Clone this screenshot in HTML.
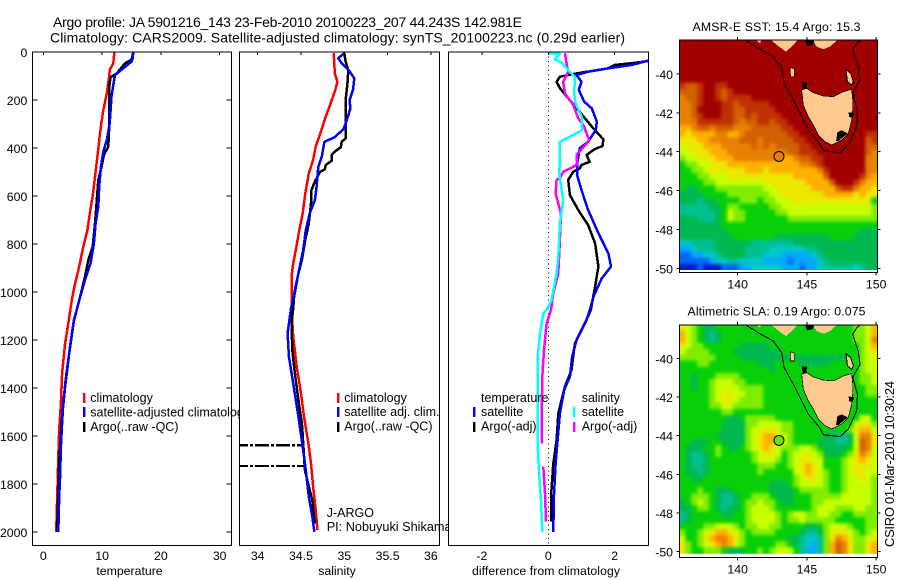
<!DOCTYPE html>
<html>
<head>
<meta charset="utf-8">
<title>Argo profile</title>
<style>
html,body{margin:0;padding:0;background:#fff;width:900px;height:580px;overflow:hidden}
svg{display:block}
text{font-family:"Liberation Sans",sans-serif;font-size:12.3px;fill:#000}
</style>
</head>
<body>
<svg id="fig" width="900" height="580" viewBox="0 0 900 580" xmlns="http://www.w3.org/2000/svg">
<defs>
<clipPath id="clip-p1"><rect x="32.3" y="52" width="199" height="493.7"/></clipPath>
<clipPath id="clip-p2"><rect x="239.3" y="52" width="200" height="493.7"/></clipPath>
<clipPath id="clip-p3"><rect x="448.3" y="52" width="200" height="493.7"/></clipPath>
<clipPath id="clip-m1"><rect x="679.3" y="40" width="198" height="232.7"/></clipPath>
<clipPath id="clip-m2"><rect x="679.3" y="325" width="198" height="232.7"/></clipPath>
<clipPath id="clip-c1"><rect x="679.3" y="40" width="198" height="230"/></clipPath>
<clipPath id="clip-c2"><rect x="679.3" y="325" width="198" height="228.7"/></clipPath>
<filter id="map-smooth" filterUnits="userSpaceOnUse" x="650" y="10" width="250" height="570" color-interpolation-filters="sRGB"><feGaussianBlur stdDeviation="1.7"/></filter>
</defs>
<rect x="0" y="0" width="900" height="580" fill="#fff"/>
<text x="53" y="27" style="font-size:14px" textLength="469" lengthAdjust="spacing">Argo profile: JA 5901216_143 23-Feb-2010 20100223_207 44.243S 142.981E</text>
<text x="50" y="42.5" style="font-size:14px" textLength="575" lengthAdjust="spacing">Climatology: CARS2009. Satellite-adjusted climatology: synTS_20100223.nc (0.29d earlier)</text>

<g id="panel1">
<rect x="32.3" y="52" width="199" height="493.7" fill="#fff"/>
<g id="panel1-series" clip-path="url(#clip-p1)"></g>
<rect x="32.3" y="52" width="199" height="493.7" fill="none" stroke="#000" stroke-width="1" shape-rendering="crispEdges"/>
<g id="panel1-axis"></g>
<text x="129.5" y="575" text-anchor="middle">temperature</text>
<g>
<rect x="83" y="393" width="2.4" height="10" fill="#f00"/>
<rect x="83" y="407" width="2.4" height="10" fill="#00f"/>
<rect x="83" y="422" width="2.4" height="10" fill="#000"/>
<text x="90.3" y="402" style="font-size:12.5px">climatology</text>
<text x="90.3" y="416.5" style="font-size:12.5px">satellite-adjusted climatology</text>
<text x="90.3" y="431" style="font-size:12.5px">Argo(..raw -QC)</text>
</g>
</g>

<g id="panel2">
<rect x="239.3" y="52" width="200" height="493.7" fill="#fff"/>
<g id="panel2-series" clip-path="url(#clip-p2)"></g>
<rect x="239.3" y="52" width="200" height="493.7" fill="none" stroke="#000" stroke-width="1" shape-rendering="crispEdges"/>
<g id="panel2-axis"></g>
<text x="337" y="575" text-anchor="middle">salinity</text>
<g>
<rect x="337" y="393" width="2.4" height="10" fill="#f00"/>
<rect x="337" y="407" width="2.4" height="10" fill="#00f"/>
<rect x="337" y="422" width="2.4" height="10" fill="#000"/>
<text x="344.3" y="402" style="font-size:12.5px">climatology</text>
<text x="344.3" y="416" style="font-size:12.5px">satellite adj. clim.</text>
<text x="344.3" y="430.5" style="font-size:12.5px">Argo(..raw -QC)</text>
</g>
<text x="326.7" y="517" style="font-size:12.5px">J-ARGO</text>
<text x="326.7" y="531" style="font-size:12.7px">PI: Nobuyuki Shikama</text>
</g>

<g id="panel3">
<rect x="448.3" y="52" width="200" height="493.7" fill="#fff"/>
<line x1="548.5" y1="52" x2="548.5" y2="545" stroke="#000" stroke-width="1" stroke-dasharray="1 3.5" shape-rendering="crispEdges"/>
<g id="panel3-series" clip-path="url(#clip-p3)"></g>
<rect x="448.3" y="52" width="200" height="493.7" fill="none" stroke="#000" stroke-width="1" shape-rendering="crispEdges"/>
<g id="panel3-axis"></g>
<text x="546" y="575" text-anchor="middle" textLength="148" lengthAdjust="spacing">difference from climatology</text>
<g>
<text x="481" y="402" style="font-size:12.5px">temperature</text>
<text x="581.7" y="402" style="font-size:12.5px">salinity</text>
<rect x="473" y="407" width="2.4" height="10" fill="#00f"/>
<rect x="473" y="422" width="2.4" height="10" fill="#000"/>
<rect x="573" y="407" width="2.4" height="10" fill="#0ff"/>
<rect x="573" y="422" width="2.4" height="10" fill="#f0f"/>
<text x="481" y="416" style="font-size:12.5px">satellite</text>
<text x="481" y="430.5" style="font-size:12.5px">Argo(-adj)</text>
<text x="581.7" y="416" style="font-size:12.5px">satellite</text>
<text x="581.7" y="430.5" style="font-size:12.5px">Argo(-adj)</text>
</g>
</g>

<g id="map1"></g>
<g id="map2"></g>
<text x="776.5" y="31" text-anchor="middle" textLength="168" lengthAdjust="spacing">AMSR-E SST: 15.4 Argo: 15.3</text>
<text x="776.5" y="315.5" text-anchor="middle" textLength="178" lengthAdjust="spacing">Altimetric SLA: 0.19 Argo: 0.075</text>
<text transform="translate(894,547) rotate(-90)" textLength="166" lengthAdjust="spacing" style="font-size:13px">CSIRO 01-Mar-2010 10:30:24</text>
</svg>

<script>
// ---- profile data ----
const depthTicks = [0,200,400,600,800,1000,1200,1400,1600,1800,2000];
const tempTicks = [0,10,20,30];
const salTicks = [34,34.5,35,35.5,36];
const diffTicks = [-2,0,2];
const lonTicks = [140,145,150];
const latTicks = [-40,-42,-44,-46,-48,-50];

const climTempDepth = [0,47,75,100,172,242,310,367,436,520,600,672,742,811,894,964,1026,1130,1214,1339,1464,1575,1686,1825,2000];
const climTemp = [12.1,11.9,11.3,11.2,10.8,10.2,9.8,9.5,9.2,8.8,8.4,7.9,7.5,6.8,6.1,5.4,4.9,4.25,3.7,3.2,3.0,2.7,2.55,2.4,2.2];
const satTempDepth = [0,26,40,68,96,137,186,242,297,367,415,478,561,644,714,797,880,950,1026,1117,1200,1283,1367,1464,1546,1644,1769,1853,2000];
const satTemp = [15.3,15.2,15.0,13.6,12.2,11.9,11.6,11.45,11.3,10.8,10.2,9.8,9.5,9.35,8.9,8.6,8.05,7.1,6.2,5.2,4.7,4.25,3.8,3.4,3.2,3.0,2.85,2.7,2.55];
const argoTempDepth = [0,33,47,89,105,144,228,311,394,429,478,533,617,714,811,867,936,1026,1120,1256,1395,1546,1712,1825,2000];
const argoTemp = [15.3,15.0,13.9,12.5,11.45,11.2,11.2,11.2,11.05,10.3,9.9,9.35,9.1,8.8,8.4,7.65,7.1,6.2,5.2,4.4,3.7,3.1,2.7,2.55,2.35];

const climSalDepth = [5,47,89,124,165,221,276,332,394,450,506,589,672,742,825,881,936,1068,1186,1311,1422,1519,1631,1714,1811,1908,1992];
const climSal = [34.877,34.885,34.89,34.92,34.89,34.835,34.78,34.73,34.67,34.64,34.59,34.55,34.52,34.48,34.44,34.41,34.39,34.39,34.41,34.45,34.5,34.535,34.585,34.615,34.64,34.67,34.69];
const satSalDepth = [5,26,47,75,110,158,200,235,283,322,356,374,436,478,561,617,672,742,825,922,992,1068,1172,1269,1381,1519,1644,1742,1853,1936,1999];
const satSal = [35.0,34.93,34.97,35.05,35.115,35.1,35.06,35.07,35.03,34.99,34.885,34.77,34.74,34.7,34.68,34.66,34.6,34.555,34.525,34.47,34.43,34.385,34.345,34.36,34.41,34.47,34.52,34.555,34.59,34.63,34.655];
const argoSalDepth = [5,40,75,117,186,269,360,374,397,415,429,453,471,489,499,540,575,631,714,783,867,922,1019,1068,1131,1242,1339,1450,1547,1631,1742,1811,1867,1964];
const argoSal = [35.0,35.015,35.045,35.04,35.02,35.015,35.015,34.97,34.96,34.89,34.855,34.855,34.785,34.775,34.72,34.66,34.62,34.615,34.59,34.55,34.51,34.47,34.42,34.41,34.39,34.4,34.43,34.47,34.51,34.525,34.545,34.59,34.63,34.66];
const spikeDepth = [1639,1725];
const spikeSal = [34.52,34.56];
const spikeLowSal = [33.0,33.0];

const satTempDiffDepth = [36,54,68,82,96,124,158,207,235,290,325,374,401,464,519,575,658,755,839,894,943,1019,1075,1117,1200,1269,1353,1408,1506,1617,1714,1853,1999];
const satTempDiff = [3.01,2.51,1.81,1.2,0.85,1.0,0.92,1.08,1.31,1.46,1.43,1.2,0.95,0.87,0.88,1.0,1.2,1.51,1.81,1.89,1.61,1.36,1.25,1.15,0.85,0.72,0.65,0.48,0.35,0.28,0.22,0.17,0.15];
const argoTempDiffDepth = [36,44,54,68,89,103,124,151,193,242,311,364,392,401,408,429,457,471,485,499,533,596,658,721,797,894,978,1075,1131,1214,1325,1394,1506,1617,1714,1853,1957];
const argoTempDiff = [3.1,2.66,2.0,1.81,0.85,0.35,0.25,0.35,0.6,0.9,1.31,1.66,1.63,1.46,1.36,1.15,1.25,1.0,0.95,0.75,0.6,0.65,0.9,1.2,1.41,1.51,1.41,1.28,1.1,0.8,0.7,0.5,0.3,0.25,0.15,0.08,0.08];
const satSalDiffDepth = [5,8,31,44,75,103,172,214,269,325,346,374,436,506,575,617,714,853,922,1033,1075,1089,1172,1269,1450,1644,1769,1867,1999];
const satSalDiff = [0.02,0.35,0.2,0.4,0.6,0.8,0.78,0.82,1.0,1.02,0.75,0.35,0.35,0.33,0.4,0.45,0.35,0.3,0.25,0.1,-0.05,-0.15,-0.25,-0.32,-0.32,-0.32,-0.27,-0.22,-0.18];
const argoSalDiffDepth = [5,47,82,124,172,221,276,311,367,380,429,471,499,526,533,589,631,672,783,922,1005,1075,1131,1242,1353,1506,1631,1728,1839,1957];
const argoSalDiff = [0.5,0.55,0.6,0.45,0.5,0.75,0.9,1.08,1.23,1.16,0.85,0.85,0.45,0.35,0.25,0.22,0.3,0.38,0.35,0.3,0.15,0.08,-0.05,-0.13,-0.18,-0.2,-0.2,-0.15,-0.1,-0.07];
const argoSalDiffGapAfter = [1631];

// ---- map data (colour-scale level per cell) ----
const sstGrid = [
[14,14,14,14,14,14,14,14,14,14,14,14,14,14,14,14,14,14,14,14,14,14,14,14,14,14,14,14,14,14,14,14,14],
[14,14,14,14,14,14,14,14,14,14,14,14,14,14,14,14,14,14,14,14,14,14,14,14,14,14,14,14,14,14,14,14,14],
[14,14,14,14,14,14,14,14,14,14,14,14,14,14,14,14,14,14,14,14,14,14,14,14,14,14,14,14,14,14,14,14,14],
[14,14,14,14,14,14,14,14,14,14,14,14,14,14,14,14,14,14,14,14,14,14,14,14,14,14,14,14,14,14,14,14,14],
[14,14,14,14,14,14,14,14,14,14,14,14,14,14,14,14,14,14,14,14,14,14,14,14,14,14,14,14,14,14,14,14,14],
[14,14,14,14,14,14,14,14,14,14,14,14,14,14,14,14,14,14,14,14,14,14,14,14,14,14,14,14,14,14,14,14,14],
[14,14,14,14,14,14,14,14,14,14,14,14,14,14,14,14,14,14,14,14,14,14,14,14,14,14,14,14,14,14,14,14,14],
[13,12,12,13,14,14,13,13,14,14,14,14,14,14,14,14,14,14,14,14,14,14,14,14,14,14,14,14,14,14,14,14,14],
[12,12,12,13,14,14,13,12,13,14,14,14,14,14,14,14,14,14,14,14,14,14,14,14,14,14,14,14,14,14,14,14,14],
[11,12,12,13,14,14,13,12,13,13,13,13,14,14,14,14,14,14,14,14,14,14,14,14,14,14,14,14,14,14,14,14,14],
[11,11,12,13,14,14,14,13,13,12,13,13,13,13,13,14,14,14,14,14,14,14,14,14,14,14,14,14,14,14,14,14,14],
[11,11,12,14,14,14,14,13,13,12,12,13,13,13,13,13,14,14,14,14,14,14,14,14,14,14,14,14,14,14,14,14,14],
[11,11,12,13,14,14,14,13,13,12,12,13,12,13,13,13,13,14,14,14,14,14,14,14,14,14,14,14,14,14,14,14,14],
[11,11,11,13,13,13,13,13,13,12,11,12,12,13,13,12,13,13,14,14,14,14,14,14,14,14,14,14,14,14,14,14,14],
[10,10,11,12,12,11,12,12,12,11,11,11,12,12,12,12,12,13,13,14,14,14,14,14,14,14,14,14,14,14,14,14,14],
[10,9,10,10,10,10,11,11,10,10,11,12,12,12,12,12,12,12,13,13,14,14,14,14,14,14,14,14,14,14,14,13,13],
[9,9,9,10,10,11,11,11,11,11,12,12,12,11,12,12,12,12,12,13,13,14,14,14,14,14,14,14,14,14,14,12,13],
[8,9,9,9,10,10,10,11,11,11,11,11,12,11,12,11,12,12,12,12,13,13,14,14,14,14,14,14,14,14,14,12,12],
[8,8,9,9,9,10,10,10,11,11,11,11,11,11,11,11,11,11,12,12,13,13,13,14,14,14,14,14,14,14,14,12,11],
[7,8,8,9,9,9,10,10,10,11,11,11,11,11,11,11,10,10,10,11,12,12,13,13,14,14,14,14,14,14,14,11,11],
[6,7,7,8,8,9,9,9,10,10,10,10,10,10,10,10,10,10,10,10,11,11,12,13,14,14,14,14,14,14,14,11,11],
[6,6,7,7,8,9,9,9,9,9,9,10,10,10,9,10,10,10,10,10,10,10,10,11,13,14,14,14,14,14,14,11,11],
[6,6,6,7,7,8,8,8,9,9,9,9,9,9,9,9,9,9,9,10,10,10,10,10,12,14,14,14,14,14,13,11,10],
[6,6,6,6,7,7,8,8,8,8,8,8,8,8,9,9,9,9,9,9,9,10,10,10,10,12,14,14,14,13,11,10,10],
[6,5,5,6,6,6,7,7,7,7,7,7,7,7,8,8,9,9,9,9,9,9,10,10,10,10,12,13,13,11,10,10,9],
[5,5,5,5,6,6,6,6,7,7,7,7,7,7,7,8,8,9,9,9,9,9,9,9,10,10,10,10,10,9,10,9,9],
[5,5,5,4,5,5,6,6,6,6,7,7,7,6,7,7,8,8,9,9,9,9,9,9,9,9,9,9,9,9,9,9,6],
[4,4,4,4,4,5,5,6,7,7,6,6,6,6,6,7,7,8,8,8,8,8,8,8,8,8,8,8,8,8,8,8,7],
[4,4,4,4,4,4,5,6,8,7,7,6,6,6,6,6,7,7,8,8,8,8,8,8,8,8,8,8,8,8,8,8,7],
[5,5,5,4,4,4,5,6,8,7,7,6,6,6,6,6,6,6,7,7,7,7,7,7,7,7,7,7,7,7,7,7,7],
[5,5,5,5,5,5,5,6,6,6,6,6,6,6,6,6,6,6,6,6,6,6,6,6,6,6,6,6,6,6,6,6,6],
[5,5,5,5,5,5,5,5,6,6,6,6,6,6,6,6,6,6,6,6,6,6,6,6,6,6,6,6,6,6,5,5,5],
[5,5,5,5,5,5,5,5,5,6,6,6,6,6,6,6,5,5,5,5,5,5,5,5,5,6,6,6,6,5,5,5,5],
[3,3,4,4,4,4,5,5,5,5,5,5,4,4,4,4,4,4,4,5,5,5,5,5,5,5,5,5,5,5,5,5,5],
[2,2,3,4,4,4,5,5,5,5,5,4,4,4,4,3,3,3,3,3,3,4,4,5,5,5,5,5,5,5,5,5,5],
[1,1,2,2,3,3,4,5,5,5,5,4,4,4,3,3,3,2,2,2,2,2,3,4,5,5,5,5,5,5,5,5,5],
[1,1,1,1,1,2,3,3,4,4,3,3,3,3,2,2,2,2,1,2,2,2,2,3,4,5,5,5,5,5,5,5,5],
[0,0,0,1,0,0,0,1,1,1,2,2,3,3,3,3,3,2,2,2,1,2,2,3,4,4,4,4,4,3,4,5,5]
];
const slaGrid = [
[9,8,7,6,5,5,6,6,6,6,6,6,6,6,6,6,6,6,6,6,6,6,6,6,6,6,6,6,6,7,7,8,10],
[10,8,7,6,5,4,5,6,6,6,6,6,6,6,6,6,6,6,6,6,6,6,6,6,6,6,6,6,6,7,7,8,10],
[10,8,7,6,5,4,5,6,6,6,6,6,6,6,6,6,6,6,6,6,6,6,6,6,6,6,6,6,6,7,7,8,11],
[9,8,7,7,6,6,6,6,6,6,5,5,5,5,5,6,6,6,6,6,6,6,6,6,6,6,6,6,6,6,7,8,10],
[8,7,7,7,7,6,6,6,6,5,5,5,5,5,5,5,5,6,6,6,6,6,6,6,6,6,6,6,6,6,7,8,9],
[7,7,7,7,7,7,6,6,6,6,5,5,5,5,5,5,5,5,5,5,5,5,5,5,5,5,5,5,6,6,7,8,8],
[6,6,6,7,7,6,6,6,6,6,6,6,6,5,5,5,6,6,6,6,5,5,5,5,5,6,6,6,6,6,7,8,8],
[6,6,6,6,6,6,6,6,6,6,6,6,6,6,6,5,6,6,6,6,6,6,6,6,6,6,6,6,6,6,7,8,8],
[6,6,5,6,6,6,7,7,7,7,6,6,6,6,6,6,6,6,6,6,6,6,6,6,6,6,6,6,6,6,7,7,8],
[6,6,5,6,6,7,8,8,8,7,7,6,6,6,6,6,6,6,6,6,6,6,6,6,6,6,6,6,6,6,7,7,8],
[6,6,5,6,6,7,8,8,8,8,7,7,7,7,6,6,6,6,6,6,6,6,6,6,6,6,6,6,6,6,6,7,7],
[6,6,6,6,6,7,8,9,9,8,8,7,7,7,6,6,6,6,6,6,6,6,6,6,6,6,6,6,6,6,6,7,7],
[6,6,6,6,6,7,8,9,9,8,7,7,7,7,6,6,6,6,6,6,6,6,6,6,6,6,6,6,6,6,6,6,6],
[6,6,6,6,6,7,7,8,8,7,7,7,7,7,6,6,6,6,6,6,6,6,6,6,6,6,6,6,6,6,6,6,6],
[6,6,6,6,6,6,6,7,7,6,6,6,6,6,6,6,6,6,6,6,6,6,6,6,6,6,6,6,6,6,6,6,6],
[6,6,6,6,6,6,6,6,5,5,6,7,7,7,7,7,6,6,6,6,6,6,6,6,6,6,6,6,6,6,8,8,6],
[6,6,6,6,6,6,6,5,5,5,5,7,7,8,8,8,8,7,7,6,6,6,6,6,6,6,6,6,6,8,9,9,7],
[6,6,6,6,6,6,6,5,5,5,5,7,8,8,9,9,8,7,7,6,6,6,6,6,6,5,6,6,7,9,10,10,8],
[6,6,6,6,6,6,5,5,5,5,5,7,8,9,10,10,9,8,7,6,6,6,6,6,5,5,4,4,5,8,11,11,9],
[6,6,5,5,5,6,6,5,5,5,5,7,8,9,10,10,9,8,7,6,6,6,6,5,5,5,4,4,5,8,12,11,9],
[6,5,5,5,6,6,7,6,5,5,6,7,8,9,10,9,8,7,7,7,8,8,7,6,5,5,5,5,6,8,12,11,8],
[6,5,4,4,5,6,7,6,6,6,6,6,7,8,9,9,8,6,7,8,8,9,8,7,5,5,5,6,7,9,11,10,8],
[6,5,4,4,5,6,6,6,6,6,6,6,7,8,8,8,7,6,7,8,9,9,8,8,6,6,6,7,8,9,10,9,8],
[6,5,4,4,5,6,6,6,6,6,6,6,6,7,7,7,6,6,7,8,9,10,9,8,6,6,6,7,8,9,9,9,8],
[6,5,5,4,5,6,6,6,6,6,6,6,6,7,6,6,6,6,6,8,9,10,9,8,7,6,6,7,8,9,9,8,8],
[6,6,5,5,6,6,6,6,6,6,6,6,6,6,6,6,6,6,6,7,8,9,9,8,7,6,6,7,8,8,9,8,7],
[6,6,6,6,6,6,6,6,6,6,6,6,6,6,6,5,5,5,6,7,8,8,8,8,7,6,6,7,8,8,8,8,7],
[6,6,6,7,6,6,5,5,5,6,6,6,6,6,6,5,5,5,5,6,7,7,7,7,7,6,6,7,8,8,8,8,7],
[6,6,7,7,7,6,5,4,4,5,6,6,7,7,7,6,5,5,5,6,6,6,7,7,7,7,7,8,8,8,8,8,7],
[5,6,7,8,7,6,5,4,4,5,6,7,7,8,7,7,6,5,5,6,6,6,7,7,8,8,8,8,8,8,8,8,7],
[5,5,6,7,7,6,5,4,5,5,6,7,8,8,8,7,6,6,6,6,6,6,7,8,8,8,7,7,7,8,8,7,7],
[4,5,6,6,6,6,6,5,5,6,6,7,8,8,8,8,7,6,7,8,8,7,7,8,8,7,7,6,6,7,7,7,7],
[4,5,6,6,6,6,6,6,6,6,6,7,8,8,8,8,7,6,7,7,8,7,7,7,7,7,6,6,6,6,6,7,7],
[6,6,6,6,7,7,8,8,8,7,6,7,7,8,8,7,7,6,6,6,6,5,5,6,7,8,8,8,7,6,6,7,7],
[7,6,6,7,8,9,10,10,9,8,7,6,7,7,7,7,6,6,6,6,5,4,4,5,7,9,9,9,8,7,6,7,8],
[8,6,6,7,9,10,11,11,10,9,7,6,6,6,6,6,6,6,5,5,4,3,3,4,7,9,11,10,9,7,7,8,9],
[9,7,6,7,8,9,10,11,10,8,7,6,6,6,6,6,7,7,6,5,4,3,2,4,7,10,12,11,9,7,7,9,10],
[9,7,6,6,7,7,7,6,5,5,5,6,6,7,6,7,8,8,8,6,4,2,2,4,7,10,12,11,9,7,7,9,10]
];
const profileLon = [142.981];
const profileLat = [-44.243];

const tasmaniaLon = [144.62,144.98,145.46,146.19,146.91,147.63,148.23,148.30,148.30,148.23,147.99,147.51,147.03,146.79,146.31,145.82,145.46,145.10,144.74];
const tasmaniaLat = [-40.82,-40.74,-40.96,-41.13,-41.17,-40.91,-40.79,-41.34,-41.85,-42.37,-43.05,-43.40,-43.57,-43.65,-43.48,-43.14,-42.62,-42.20,-41.60];
const otwayLon = [142.33,142.82,143.49,144.02,144.38];
const otwayLat = [-38.2,-38.51,-38.85,-38.51,-38.2];
const gippslandLon = [145.34,145.70,146.19,146.67,147.27];
const gippslandLat = [-38.2,-38.59,-38.73,-38.59,-38.2];
const glenelgLon = [141.25,141.6,141.73];
const glenelgLat = [-38.2,-38.42,-38.2];
const kingLon = [143.83,144.07,144.07,143.85,143.78];
const kingLat = [-39.66,-39.73,-40.14,-40.14,-39.89];
const flindersLon = [147.82,148.16,148.35,148.23,147.92];
const flindersLat = [-39.76,-39.97,-40.39,-40.57,-40.39];
const shelfLon = [140.41,141.61,142.58,143.18,143.35,144.02,144.62,145.10,145.90,146.19,147.39,147.99,148.59,148.64,148.30,148.83,148.71,148.30,148.59,148.95];
const shelfLat = [-38.2,-38.73,-39.11,-39.71,-40.48,-41.34,-42.20,-42.88,-43.57,-43.95,-44.05,-43.65,-42.71,-41.85,-40.99,-40.31,-39.62,-38.76,-38.42,-38.2];
const southeastRocksLon = [147.1,147.2,147.5,147.95,147.6,147.3];
const southeastRocksLat = [-43.45,-43.0,-42.9,-43.05,-43.25,-43.45];
const westportRocksLon = [144.85,145.58,145.4,145.0];
const westportRocksLat = [-38.2,-38.2,-38.5,-38.55];
const northwestRocksLon = [144.63,145.0,144.95,144.68];
const northwestRocksLat = [-40.41,-40.45,-40.75,-40.8];
const eastCoastRocksLon = [148.0,148.42,148.3,148.05];
const eastCoastRocksLat = [-41.98,-42.0,-42.24,-42.22];

const levelColors = ['#0020c0','#0068f0','#00a8ff','#00c8c8','#00c090','#00b850','#08d008','#80ec00','#c8ff00','#ece800','#ffb000','#e88000','#d06000','#c03000','#a00000'];

// ---- axis functions ----
const NS = 'http://www.w3.org/2000/svg';
function yDepth(d){ return 52 + 0.24 * d; }
function xTemp(v){ return 43.3 + 5.88 * v; }
function xSal(v){ return 344.3 + 86.6 * (v - 35); }
function xDiff(v){ return 548.3 + 33.2 * v; }

function mk(tag, attrs, parent){
  const e = document.createElementNS(NS, tag);
  for (const k in attrs) e.setAttribute(k, attrs[k]);
  parent.appendChild(e);
  return e;
}

function drawSeries(parent, name, depths, values, xf, color, gaps){
  let pts = [];
  const flush = () => {
    if (pts.length < 2) { pts = []; return; }
    const line = mk('polyline', {points: pts.join(' '), fill: 'none', stroke: color, 'stroke-width': 2.5, 'stroke-linejoin': 'round', 'shape-rendering': 'crispEdges'}, parent);
    
    
    pts = [];
  };
  depths.forEach((d, i) => {
    pts.push(xf(values[i]).toFixed(1) + ',' + yDepth(d).toFixed(1));
    if (gaps && gaps.includes(d)) flush();
  });
  flush();
}

function drawAxis(parent, left, right, xf, xTicks, showDepth){
  xTicks.forEach(v => {
    const tick = mk('line', {x1: xf(v), y1: 52, x2: xf(v), y2: 55, stroke: '#000', 'stroke-width': 1, 'shape-rendering': 'crispEdges'}, parent);
    
    
    const label = mk('text', {x: xf(v), y: 560, 'text-anchor': 'middle'}, parent);
    label.textContent = String(v);
    
    
  });
  if (!showDepth) return;
  depthTicks.forEach(d => {
    const y = yDepth(d);
    const t1 = mk('line', {x1: left, y1: y, x2: left + 5, y2: y, stroke: '#000', 'stroke-width': 1, 'shape-rendering': 'crispEdges'}, parent);
    
    
    const t2 = mk('line', {x1: right - 5, y1: y, x2: right, y2: y, stroke: '#000', 'stroke-width': 1, 'shape-rendering': 'crispEdges'}, parent);
    
    
    const label = mk('text', {x: left - 5, y: y + 5, 'text-anchor': 'end'}, parent);
    label.textContent = String(d);
    
    
  });
}

// ---- profile panels ----
const s1 = document.getElementById('panel1-series');
drawSeries(s1, 'temperature-climatology-line', climTempDepth, climTemp, xTemp, '#f00');
drawSeries(s1, 'temperature-argo-line', argoTempDepth, argoTemp, xTemp, '#000');
drawSeries(s1, 'temperature-satellite-line', satTempDepth, satTemp, xTemp, '#00f');
drawAxis(document.getElementById('panel1-axis'), 32.3, 231.3, xTemp, tempTicks, true);

const s2 = document.getElementById('panel2-series');
drawSeries(s2, 'salinity-climatology-line', climSalDepth, climSal, xSal, '#f00');
drawSeries(s2, 'salinity-argo-line', argoSalDepth, argoSal, xSal, '#000');
spikeDepth.forEach((d, i) => {
  const spike = mk('line', {x1: xSal(spikeLowSal[i]), y1: yDepth(d), x2: xSal(spikeSal[i]), y2: yDepth(d), stroke: '#000', 'stroke-width': 2.4, 'stroke-dasharray': '14 2 3 2', 'shape-rendering': 'crispEdges'}, s2);
  
  
});
drawSeries(s2, 'salinity-satellite-line', satSalDepth, satSal, xSal, '#00f');
drawAxis(document.getElementById('panel2-axis'), 239.3, 439.3, xSal, salTicks, false);

const s3 = document.getElementById('panel3-series');
drawSeries(s3, 'temperature-argo-difference-line', argoTempDiffDepth, argoTempDiff, xDiff, '#000');
drawSeries(s3, 'temperature-satellite-difference-line', satTempDiffDepth, satTempDiff, xDiff, '#00f');
drawSeries(s3, 'salinity-argo-difference-line', argoSalDiffDepth, argoSalDiff, xDiff, '#f0f', argoSalDiffGapAfter);
drawSeries(s3, 'salinity-satellite-difference-line', satSalDiffDepth, satSalDiff, xDiff, '#0ff');
drawAxis(document.getElementById('panel3-axis'), 448.3, 648.3, xDiff, diffTicks, false);

// ---- maps ----
function drawMap(id, prefix, grid, top, lat40Y, kLat, markerColor, clipId, cellClipId){
  const g = document.getElementById(id);
  const xLon = lon => 737.7 + 13.85 * (lon - 140);
  const yLat = lat => lat40Y + kLat * (-40 - lat);
  const left = 679.3, right = 877.3, bottom = top + 232.7;
  const bg = mk('rect', {x: left, y: top, width: 198, height: 232.7, fill: '#fff'}, g);
  
  
  const cells = mk('g', {filter: 'url(#map-smooth)', 'clip-path': 'url(#' + cellClipId + ')'}, g);
  
  
  const lon0 = 135.78, dLon = 0.4332, lat0 = -38.26, dLat = 0.3114;
  const pad = 12;
  grid.forEach((row, r) => {
    row.forEach((v, c) => {
      let x = xLon(lon0 + c * dLon), y = yLat(lat0 - r * dLat);
      let w = dLon * 13.85 + 0.6, h = dLat * kLat + 0.6;
      if (c === 0) { x -= pad; w += pad; }
      if (c === row.length - 1) { w += pad; }
      if (r === 0) { y -= pad; h += pad; }
      if (r === grid.length - 1) { h += pad; }
      const cell = mk('rect', {x: x.toFixed(2), y: y.toFixed(2), width: w.toFixed(2), height: h.toFixed(2), fill: levelColors[v]}, cells);
      
      
    });
  });
  const body = mk('g', {'clip-path': 'url(#' + clipId + ')'}, g);
  
  
  const poly = (name, lons, lats, fill, stroke, sw) => {
    const pts = lons.map((lon, i) => xLon(lon).toFixed(1) + ',' + yLat(lats[i]).toFixed(1)).join(' ');
    const p = mk('polygon', {points: pts, fill: fill, stroke: stroke, 'stroke-width': sw, 'shape-rendering': 'crispEdges'}, body);
    
    
  };
  poly('tasmania-land', tasmaniaLon, tasmaniaLat, '#fdc98f', '#000', 0.7);
  poly('victoria-land-otway', otwayLon, otwayLat, '#fdc98f', 'none', 0);
  poly('victoria-land-gippsland', gippslandLon, gippslandLat, '#fdc98f', 'none', 0);
  poly('victoria-land-glenelg', glenelgLon, glenelgLat, '#fdc98f', 'none', 0);
  poly('king-island', kingLon, kingLat, '#fdc98f', '#000', 0.6);
  poly('flinders-island', flindersLon, flindersLat, '#fdc98f', '#000', 1);
  poly('southeast-tasmania-coast-detail', southeastRocksLon, southeastRocksLat, '#000', 'none', 0);
  poly('western-port-coast-detail', westportRocksLon, westportRocksLat, '#000', 'none', 0);
  poly('northwest-tasmania-coast-detail', northwestRocksLon, northwestRocksLat, '#000', 'none', 0);
  poly('east-tasmania-coast-detail', eastCoastRocksLon, eastCoastRocksLat, '#000', 'none', 0);
  const shelfPts = shelfLon.map((lon, i) => xLon(lon).toFixed(1) + ',' + yLat(shelfLat[i]).toFixed(1)).join(' ');
  const shelf = mk('polyline', {points: shelfPts, fill: 'none', stroke: '#000', 'stroke-width': 1, 'shape-rendering': 'crispEdges'}, body);
  
  
  const marker = mk('circle', {cx: xLon(profileLon[0]), cy: yLat(profileLat[0]), r: 5, fill: markerColor, stroke: '#000', 'stroke-width': 1}, body);
  
  
  const box = mk('rect', {x: left, y: top, width: 198, height: 232.7, fill: 'none', stroke: '#000', 'stroke-width': 1, 'shape-rendering': 'crispEdges'}, g);
  
  
  lonTicks.forEach(v => {
    const x = xLon(v);
    const t1 = mk('line', {x1: x, y1: top - 3, x2: x, y2: top, stroke: '#000', 'shape-rendering': 'crispEdges'}, g);
    
    
    const t2 = mk('line', {x1: x, y1: bottom, x2: x, y2: bottom + 3, stroke: '#000', 'shape-rendering': 'crispEdges'}, g);
    
    
    const label = mk('text', {x: x, y: bottom + 16, 'text-anchor': 'middle'}, g);
    label.textContent = String(v);
    
    
  });
  latTicks.forEach(v => {
    const y = yLat(v);
    const t1 = mk('line', {x1: left - 3, y1: y, x2: left, y2: y, stroke: '#000', 'shape-rendering': 'crispEdges'}, g);
    
    
    const t2 = mk('line', {x1: right, y1: y, x2: right + 3, y2: y, stroke: '#000', 'shape-rendering': 'crispEdges'}, g);
    
    
    const label = mk('text', {x: 673, y: y + 5, 'text-anchor': 'end'}, g);
    label.textContent = String(v);
    
    
  });
}
drawMap('map1', 'sst', sstGrid, 40, 74, 19.43, '#e88000', 'clip-m1', 'clip-c1');
drawMap('map2', 'sla', slaGrid, 325, 358.3, 19.33, '#70e000', 'clip-m2', 'clip-c2');
</script>
</body>
</html>
